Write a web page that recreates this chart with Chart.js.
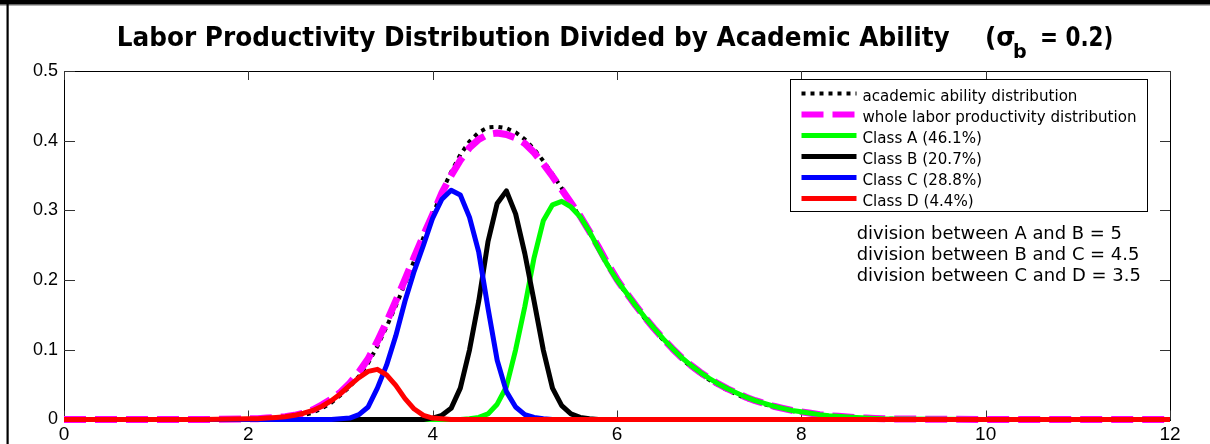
<!DOCTYPE html>
<html>
<head>
<meta charset="utf-8">
<title>Labor Productivity Distribution Divided by Academic Ability</title>
<script src="https://cdn.jsdelivr.net/npm/chart.js@4.4.1/dist/chart.umd.min.js"></script>
<style>
html,body{margin:0;padding:0;background:#fff;overflow:hidden;}
canvas{display:block;}
</style>
</head>
<body>
<canvas id="chart" width="1210" height="444"></canvas>
<script>
// ---- data ----
const xs = [0, 0.5, 1, 1.5,
  2.0, 2.1, 2.2, 2.3, 2.4, 2.5, 2.6, 2.7, 2.8, 2.9,
  3.0, 3.1, 3.2, 3.3, 3.4, 3.5, 3.6, 3.7, 3.8, 3.9,
  4.0, 4.1, 4.2, 4.3, 4.4, 4.5, 4.6, 4.7, 4.8, 4.9,
  5.0, 5.1, 5.2, 5.3, 5.4, 5.5, 5.6, 5.7, 5.8, 5.9,
  6.0, 6.1, 6.2, 6.3, 6.4, 6.5, 6.6, 6.7, 6.8, 6.9,
  7.0, 7.1, 7.2, 7.3, 7.4, 7.5, 7.6, 7.7, 7.8, 7.9,
  8.0, 8.1, 8.2, 8.3, 8.4, 8.5, 8.6, 8.7, 8.8, 8.9,
  9.0, 9.5, 10, 10.5, 11, 11.5, 12];

const academicAbility = [0, 0, 0, 0,
  0.000, 0.000, 0.001, 0.001, 0.002, 0.004, 0.006, 0.010, 0.016, 0.024,
  0.035, 0.047, 0.062, 0.081, 0.105, 0.133, 0.163, 0.195, 0.228, 0.261,
  0.293, 0.327, 0.355, 0.380, 0.399, 0.412, 0.419, 0.420, 0.418, 0.412,
  0.402, 0.388, 0.371, 0.352, 0.332, 0.311, 0.290, 0.268, 0.246, 0.222,
  0.200, 0.180, 0.162, 0.145, 0.129, 0.114, 0.100, 0.087, 0.076, 0.066,
  0.057, 0.049, 0.042, 0.036, 0.030, 0.026, 0.022, 0.018, 0.015, 0.012,
  0.010, 0.008, 0.006, 0.005, 0.004, 0.003, 0.002, 0.002, 0.001, 0.001,
  0.001, 0, 0, 0, 0, 0, 0];

const wholeProductivity = [0, 0, 0, 0,
  0.001, 0.001, 0.002, 0.003, 0.004, 0.006, 0.009, 0.014, 0.021, 0.029,
  0.039, 0.052, 0.068, 0.087, 0.112, 0.140, 0.170, 0.201, 0.233, 0.264,
  0.294, 0.325, 0.350, 0.372, 0.390, 0.402, 0.409, 0.411, 0.409, 0.404,
  0.396, 0.383, 0.367, 0.349, 0.330, 0.311, 0.292, 0.270, 0.247, 0.223,
  0.201, 0.182, 0.164, 0.147, 0.131, 0.116, 0.102, 0.089, 0.078, 0.068,
  0.059, 0.051, 0.044, 0.038, 0.032, 0.027, 0.023, 0.019, 0.016, 0.013,
  0.011, 0.009, 0.007, 0.0055, 0.0045, 0.0035, 0.0027, 0.002, 0.0015, 0.001,
  0.0008, 0.0003, 0, 0, 0, 0, 0];

const classA = [0, 0, 0, 0,
  0, 0, 0, 0, 0, 0, 0, 0, 0, 0,
  0, 0, 0, 0, 0, 0, 0, 0, 0, 0,
  0, 0, 0, 0, 0.001, 0.003, 0.008, 0.022, 0.047, 0.100,
  0.162, 0.232, 0.285, 0.308, 0.313, 0.305, 0.291, 0.270, 0.245, 0.221,
  0.200, 0.182, 0.164, 0.147, 0.131, 0.116, 0.102, 0.089, 0.078, 0.068,
  0.059, 0.051, 0.044, 0.038, 0.032, 0.027, 0.023, 0.019, 0.016, 0.013,
  0.011, 0.009, 0.007, 0.0055, 0.0045, 0.0035, 0.0027, 0.002, 0.0015, 0.001,
  0.0008, 0.0003, 0, 0, 0, 0, 0];

const classB = [0, 0, 0, 0,
  0, 0, 0, 0, 0, 0, 0, 0, 0, 0,
  0, 0, 0, 0, 0, 0, 0, 0, 0, 0,
  0.002, 0.006, 0.016, 0.045, 0.100, 0.170, 0.255, 0.310, 0.328, 0.295,
  0.238, 0.170, 0.100, 0.045, 0.020, 0.008, 0.003, 0.001, 0, 0,
  0, 0, 0, 0, 0, 0, 0, 0, 0, 0,
  0, 0, 0, 0, 0, 0, 0, 0, 0, 0,
  0, 0, 0, 0, 0, 0, 0, 0, 0, 0,
  0, 0, 0, 0, 0, 0, 0];

const classC = [0, 0, 0, 0,
  0, 0, 0, 0, 0, 0, 0, 0, 0, 0,
  0.001, 0.002, 0.007, 0.018, 0.045, 0.078, 0.120, 0.170, 0.213, 0.250,
  0.289, 0.316, 0.329, 0.322, 0.290, 0.240, 0.160, 0.085, 0.040, 0.018,
  0.007, 0.003, 0.001, 0, 0, 0, 0, 0, 0, 0,
  0, 0, 0, 0, 0, 0, 0, 0, 0, 0,
  0, 0, 0, 0, 0, 0, 0, 0, 0, 0,
  0, 0, 0, 0, 0, 0, 0, 0, 0, 0,
  0, 0, 0, 0, 0, 0, 0];

const classD = [0, 0, 0, 0,
  0.001, 0.001, 0.002, 0.003, 0.004, 0.006, 0.009, 0.013, 0.019, 0.027,
  0.037, 0.049, 0.060, 0.069, 0.072, 0.064, 0.049, 0.030, 0.015, 0.006,
  0.002, 0.001, 0, 0, 0, 0, 0, 0, 0, 0,
  0, 0, 0, 0, 0, 0, 0, 0, 0, 0,
  0, 0, 0, 0, 0, 0, 0, 0, 0, 0,
  0, 0, 0, 0, 0, 0, 0, 0, 0, 0,
  0, 0, 0, 0, 0, 0, 0, 0, 0, 0,
  0, 0, 0, 0, 0, 0, 0];

const seriesLabels = [
  'academic ability distribution',
  'whole labor productivity distribution',
  'Class A (46.1%)',
  'Class B (20.7%)',
  'Class C (28.8%)',
  'Class D (4.4%)'
];

const divisionNotes = [
  'division between A and B = 5',
  'division between B and C = 4.5',
  'division between C and D = 3.5'
];

const titleMain = 'Labor Productivity Distribution Divided by Academic Ability';
const titleOpen = '(σ';
const titleSub = 'b';
const titleClose = '= 0.2)';

const xTickStep = 2;
const yTickStep = 0.1;

// ---- helpers ----
function pts(arr) { return arr.map((v, i) => ({ x: xs[i], y: v })); }

function drawScaled(c, text, x, y, k) {
  c.save();
  c.translate(x, y);
  c.scale(k, 1);
  c.fillText(text, 0, 0);
  c.restore();
}

const decor = {
  id: 'decor',
  beforeDraw(chart) {
    const c = chart.ctx;
    c.save();
    c.fillStyle = '#fff';
    c.fillRect(0, 0, chart.width, chart.height);
    c.fillStyle = '#000';
    c.fillRect(0, 0, chart.width, 4);
    c.fillStyle = '#666';
    c.fillRect(0, 4, chart.width, 1.5);
    c.fillStyle = '#000';
    c.fillRect(6.5, 0, 2.2, chart.height);
    c.restore();
  },
  beforeDatasetsDraw(chart) {
    const c = chart.ctx, a = chart.chartArea, sx = chart.scales.x, sy = chart.scales.y;
    c.save();
    c.strokeStyle = '#000';
    c.lineWidth = 1;
    c.strokeRect(Math.round(a.left) + 0.5, Math.round(a.top) + 0.5,
      Math.round(a.right - a.left), Math.round(a.bottom - a.top));
    c.strokeStyle = '#333';
    c.beginPath();
    sx.ticks.forEach(t => {
      const px = Math.round(sx.getPixelForValue(t.value)) + 0.5;
      c.moveTo(px, a.bottom); c.lineTo(px, a.bottom - 9);
      c.moveTo(px, a.top); c.lineTo(px, a.top + 9);
    });
    sy.ticks.forEach(t => {
      const py = Math.round(sy.getPixelForValue(t.value)) + 0.5;
      c.moveTo(a.left, py); c.lineTo(a.left + 11, py);
      c.moveTo(a.right, py); c.lineTo(a.right - 10, py);
    });
    c.stroke();
    c.restore();
  },
  afterDraw(chart) {
    const c = chart.ctx, a = chart.chartArea;
    c.save();
    c.fillStyle = '#000';
    c.textBaseline = 'alphabetic';

    // legend box
    const bx = a.right - 379.5, by = a.top + 8.5, bw = 357, bh = 132;
    c.fillStyle = '#fff';
    c.fillRect(bx, by, bw, bh);
    c.strokeStyle = '#000';
    c.lineWidth = 1;
    c.strokeRect(bx, by, bw, bh);
    c.font = '15px "DejaVu Sans"';
    const kL = 274 / c.measureText(seriesLabels[1]).width;
    chart.data.datasets.forEach((ds, i) => {
      const base = by + 21.5 + 21 * i;
      c.save();
      c.strokeStyle = ds.borderColor;
      c.lineWidth = Math.min(ds.borderWidth, 6);
      c.setLineDash(ds.borderDash || []);
      c.lineCap = 'butt';
      c.beginPath();
      c.moveTo(bx + 11, base - 7.5);
      c.lineTo(bx + 66, base - 7.5);
      c.stroke();
      c.restore();
      c.fillStyle = '#000';
      drawScaled(c, seriesLabels[i], bx + 72, base, kL);
    });

    // division notes
    c.font = '17px "DejaVu Sans"';
    const kN = 282.7 / c.measureText(divisionNotes[1]).width;
    divisionNotes.forEach((t, i) => {
      drawScaled(c, t, 856.7, 239.3 + 20.9 * i, kN);
    });

    // title
    c.font = 'bold 26px "DejaVu Sans"';
    const kT = 833 / c.measureText(titleMain).width;
    drawScaled(c, titleMain, 116.7, 45.5, kT);
    drawScaled(c, titleOpen, 985, 45.5, kT);
    const wClose = c.measureText(titleClose).width;
    drawScaled(c, titleClose, 1040, 45.5, 73.3 / wClose);
    c.font = 'bold 20px "DejaVu Sans"';
    drawScaled(c, titleSub, 1013, 57.5, kT);
    c.restore();
  }
};

const datasets = [
  { label: seriesLabels[0], data: pts(academicAbility), borderColor: '#000000', borderWidth: 4, borderDash: [4, 5], order: 6 },
  { label: seriesLabels[1], data: pts(wholeProductivity), borderColor: '#ff00ff', borderWidth: 7, borderDash: [22, 9], order: 5 },
  { label: seriesLabels[2], data: pts(classA), borderColor: '#00ff00', borderWidth: 5, order: 4 },
  { label: seriesLabels[3], data: pts(classB), borderColor: '#000000', borderWidth: 5, order: 3 },
  { label: seriesLabels[4], data: pts(classC), borderColor: '#0000ff', borderWidth: 5, order: 2 },
  { label: seriesLabels[5], data: pts(classD), borderColor: '#ff0000', borderWidth: 5, order: 1 }
];

new Chart(document.getElementById('chart'), {
  type: 'line',
  data: { datasets },
  options: {
    responsive: false,
    animation: false,
    devicePixelRatio: 1,
    clip: false,
    layout: { padding: { left: 0, right: 40, top: 71, bottom: 0 } },
    plugins: { legend: { display: false }, tooltip: { enabled: false }, title: { display: false } },
    elements: {
      point: { radius: 0 },
      line: { tension: 0, borderCapStyle: 'butt', borderJoinStyle: 'round', fill: false }
    },
    scales: {
      x: {
        type: 'linear', min: 0, max: 12,
        afterFit(s) { s.height = 24.5; },
        ticks: { stepSize: xTickStep, color: '#000', font: { family: 'Liberation Sans', size: 19 }, padding: 4, maxRotation: 0 },
        grid: { display: false, drawTicks: false },
        border: { display: false }
      },
      y: {
        type: 'linear', min: 0, max: 0.5,
        afterFit(s) { s.width = 64; },
        ticks: { stepSize: yTickStep, color: '#000', font: { family: 'Liberation Sans', size: 18 }, padding: 6 },
        grid: { display: false, drawTicks: false },
        border: { display: false }
      }
    }
  },
  plugins: [decor]
});
</script>
</body>
</html>
